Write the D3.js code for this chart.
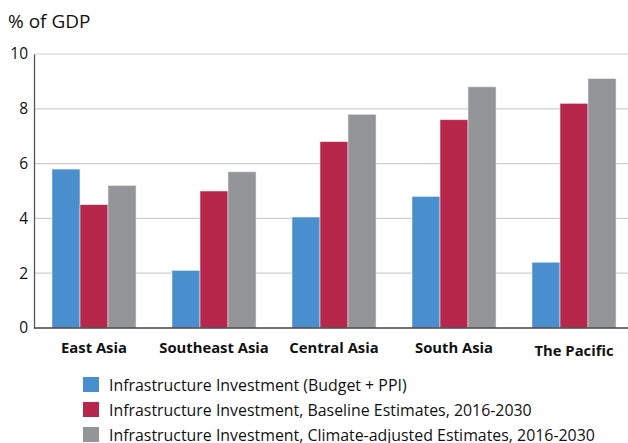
<!DOCTYPE html>
<html><head><meta charset="utf-8">
<script src="https://cdn.jsdelivr.net/npm/d3@7"></script>
<style>body{margin:0;background:#fff}svg{display:block;font-family:"Open Sans",sans-serif}</style>
</head><body><svg id="c" width="628" height="443"></svg>
<script>
const categories = ["East Asia","Southeast Asia","Central Asia","South Asia","The Pacific"];
const seriesNames = ["Infrastructure Investment (Budget + PPI)","Infrastructure Investment, Baseline Estimates, 2016-2030","Infrastructure Investment, Climate-adjusted Estimates, 2016-2030"];
const budgetPPI = [5.8, 2.1, 4.05, 4.8, 2.4];
const baseline = [4.5, 5.0, 6.8, 7.6, 8.2];
const climateAdj = [5.2, 5.7, 7.8, 8.8, 9.1];
const yTicks = [0,2,4,6,8,10];
const colors = ["#4a8fcd","#b7274b","#939598"];
const series = [budgetPPI, baseline, climateAdj];

const svg = d3.select("#c");
const x0 = d3.scaleBand().domain(categories).range([34,634]).paddingInner(0.3).paddingOuter(0.15);
const x1 = d3.scaleBand().domain([0,1,2]).range([0,x0.bandwidth()]);
const y = d3.scaleLinear().domain([0,10]).range([328,54]);

// gridlines
svg.append("g").selectAll("line").data(yTicks.filter(d=>d>0)).join("line")
  .attr("x1",34).attr("x2",628).attr("y1",d=>y(d)).attr("y2",d=>y(d))
  .attr("stroke","#cfcfcf").attr("stroke-width",1.2);

// bars
const g = svg.append("g");
categories.forEach((c,i)=>{
  series.forEach((s,j)=>{
    g.append("rect").attr("x",x0(c)+x1(j)).attr("width",x1.bandwidth())
      .attr("y",y(s[i])).attr("height",y(0)-y(s[i]))
      .attr("fill",colors[j]).attr("stroke","#e8e8e8").attr("stroke-width",0.6);
  });
});

// y axis
const ya = svg.append("g").attr("transform","translate(34,0)").call(d3.axisLeft(y).tickValues(yTicks).tickSize(0).tickPadding(6));
ya.select(".domain").attr("stroke","#555").attr("stroke-width",1.3);
ya.selectAll("text").attr("font-size",15.5).attr("fill","#111").attr("font-family","'Open Sans',sans-serif");
// x axis
const xa = svg.append("g").attr("transform","translate(0,328)").call(d3.axisBottom(x0).tickSize(0).tickPadding(0));
xa.select(".domain").remove();
svg.append("line").attr("x1",34).attr("x2",628).attr("y1",328).attr("y2",328).attr("stroke","#444").attr("stroke-width",1.5);
xa.selectAll("text").attr("font-size",14.8).attr("font-weight","bold").attr("fill","#111")
  .attr("font-family","'Open Sans',sans-serif")
  .attr("y",d=>d==="The Pacific"?17.5:14.5);

svg.append("text").attr("x",8).attr("y",28).attr("font-size",19).attr("fill","#111").text("% of GDP");

// legend
const lg = svg.append("g");
seriesNames.forEach((n,j)=>{
  lg.append("rect").attr("x",83).attr("y",377+j*25).attr("width",16).attr("height",15).attr("fill",colors[j]);
  lg.append("text").attr("x",109).attr("y",390.5+j*25).attr("font-size",15.9).attr("fill","#111").text(n);
});
</script></body></html>
